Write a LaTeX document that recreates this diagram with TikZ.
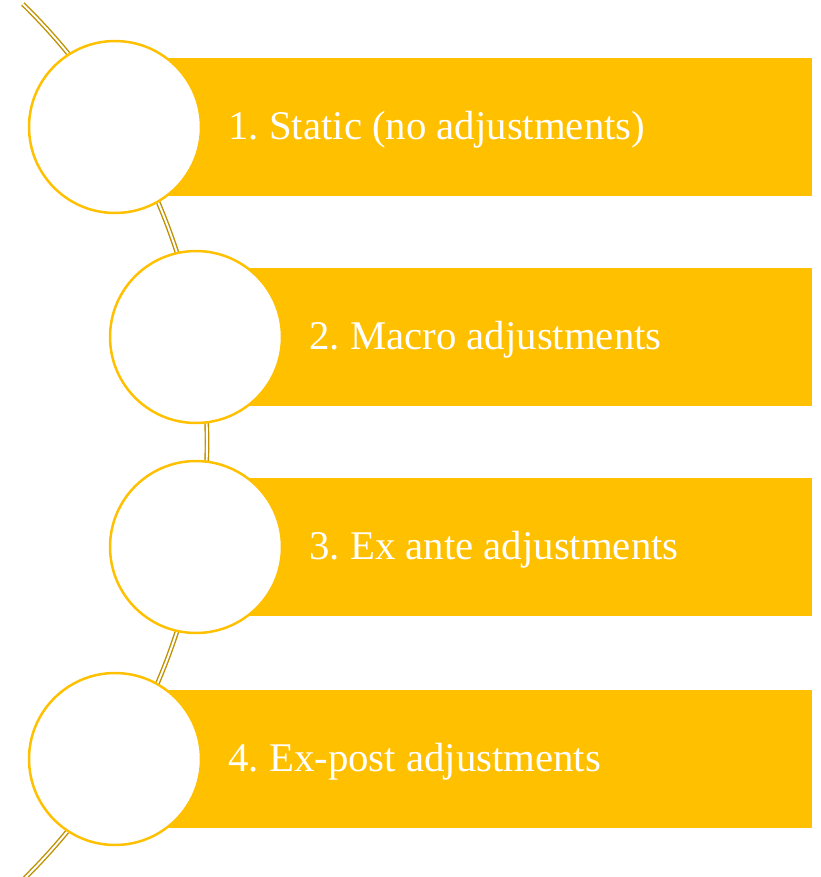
\documentclass[tikz,border=0pt]{standalone}
\usepackage{fontspec}
\setmainfont{Liberation Serif}
\usetikzlibrary{positioning, calc}
\definecolor{gold}{HTML}{FFC000}
\definecolor{darkgold}{HTML}{BF9000}

\begin{document}
\frenchspacing
\begin{tikzpicture}[x=0.02cm, y=-0.02cm,
    ring/.style={circle, draw=gold, line width=1.4pt, fill=white, minimum size=3.44cm, inner sep=0pt},
    itemtext/.style={text=white, font=\fontsize{23.2}{27}\selectfont, inner sep=0pt, anchor=west, yshift=-0.06cm},
    node distance=0.52cm]
  \useasboundingbox (0,0) rectangle (821,877);

  % the spine behind the circles
  \coordinate (hub) at (-406,442);
  \draw[darkgold, line width=0.8pt, double=white, double distance=1.1pt]
    (hub) ++(-45.6:613) arc[start angle=-45.6, end angle=45.6, radius=613];

  % bars
  \foreach \n/\x/\y in {1/115/127, 2/196/337, 3/196/547, 4/115/759}
    \fill[gold] (\x,\y-69) rectangle (812,\y+69);

  % circles and texts
  \foreach \n/\x/\y/\txt in {1/115/127/{1. Static (no adjustments)},
                            2/196/337/{2. Macro adjustments},
                            3/196/547/{3. Ex ante adjustments},
                            4/115/759/{4. Ex-post adjustments}} {
    \node[ring] (c\n) at (\x,\y) {};
    \node[itemtext, right=of c\n] (t\n) {\txt};
  }
\end{tikzpicture}
\end{document}
